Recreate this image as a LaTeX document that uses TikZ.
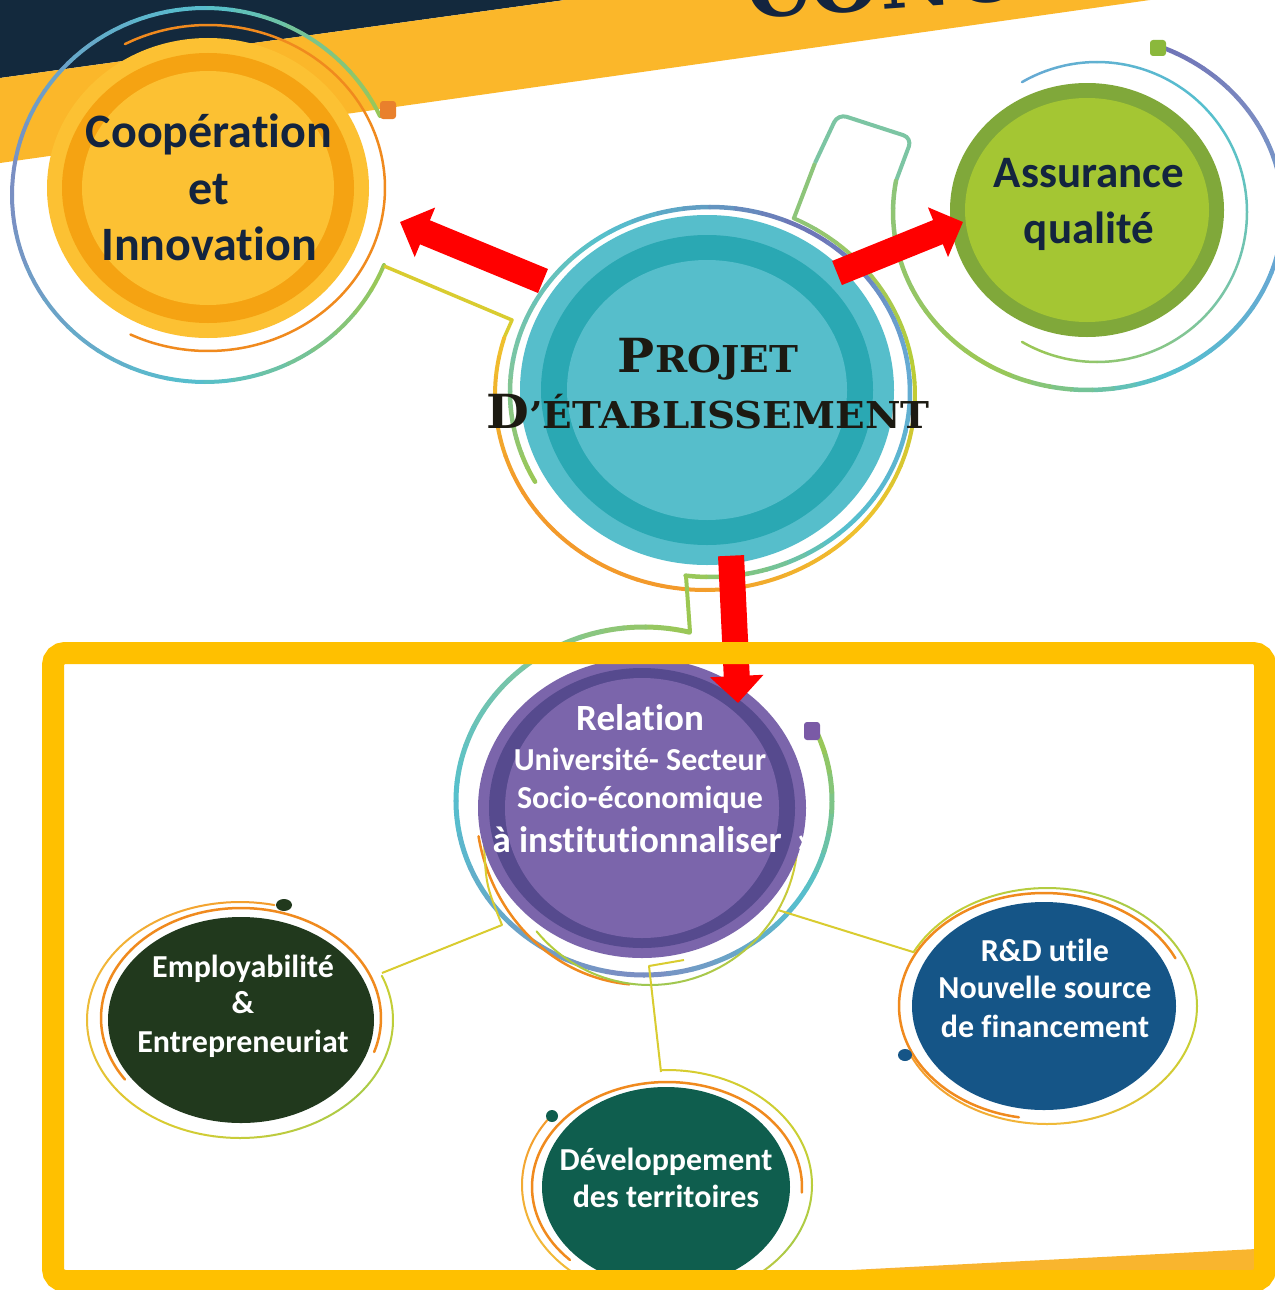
\documentclass[tikz,border=0pt]{standalone}
\usepackage{fontspec}
\setmainfont{Carlito}[Ligatures=NoCommon]
\newfontfamily\projfont{DejaVu Serif}[FakeStretch=1.05]
\newfontfamily\titlefont{DejaVu Serif}
\usetikzlibrary{arrows.meta,shapes.geometric}
\definecolor{navy}{HTML}{13293D}
\definecolor{bannery}{HTML}{FBB72A}
\definecolor{txtnavy}{HTML}{13243F}
\definecolor{coopA}{HTML}{FCC133}
\definecolor{coopB}{HTML}{F5A312}
\definecolor{assA}{HTML}{80A83A}
\definecolor{assB}{HTML}{A4C633}
\definecolor{projA}{HTML}{56BECB}
\definecolor{projB}{HTML}{2AA8B3}
\definecolor{purA}{HTML}{7B65AB}
\definecolor{purB}{HTML}{564A8E}
\definecolor{empc}{HTML}{21391D}
\definecolor{devc}{HTML}{0F5E4E}
\definecolor{rdc}{HTML}{155587}
\definecolor{framey}{HTML}{FFC000}
\definecolor{wedgec}{HTML}{F9B52E}
\definecolor{projtxt}{HTML}{1C1A12}
\definecolor{cgreen}{HTML}{9CC752}
\definecolor{cgreen2}{HTML}{8DC57A}
\definecolor{ccyan}{HTML}{55C0CE}
\definecolor{cbluep}{HTML}{7C8CC2}
\definecolor{cblue}{HTML}{66A8D3}
\definecolor{cpurp}{HTML}{6F72B6}
\definecolor{cteal}{HTML}{7CC5A3}
\definecolor{cyell}{HTML}{EFC22E}
\definecolor{corange}{HTML}{F39A2B}
\definecolor{cygreen}{HTML}{B8CD35}
\definecolor{lorange}{HTML}{F08A1E}
\definecolor{dotor}{HTML}{E9802C}
\definecolor{dotgr}{HTML}{8BB83C}
\definecolor{dotpu}{HTML}{7A5AA6}
\definecolor{lyell}{HTML}{D9CC30}
\definecolor{oy}{HTML}{F2B83A}
\definecolor{yg}{HTML}{A8CB48}
\definecolor{yg2}{HTML}{CBCF32}

% gradient arc: cx cy rx ry a b colA colB width  (pixel coords, y down)
\newcommand\garc[9]{%
  \foreach \gK in {0,...,7}{%
    \pgfmathsetmacro\gA{#5+(#6-#5)*\gK/8}%
    \pgfmathsetmacro\gB{#5+(#6-#5)*(\gK+1)/8}%
    \pgfmathtruncatemacro\gP{100-100*(\gK+0.5)/8}%
    \draw[color=#7!\gP!#8, line width=#9, line cap=round]
      plot[domain=\gA:\gB, samples=5] ({#1+#3*cos(\x)},{#2+#4*sin(\x)});
  }}
% solid arc
\newcommand\sarc[7]{%
  \draw[#7] plot[domain=#5:#6, samples=60, smooth] ({#1+#3*cos(\x)},{#2+#4*sin(\x)});}

\tikzset{
 tl/.style={anchor=base, inner sep=0pt},
 cooptxt/.style={tl, text=txtnavy, font=\bfseries\fontsize{48}{50}\selectfont},
 asstxt/.style={tl, text=txtnavy, font=\bfseries\fontsize{45}{48}\selectfont},
 projtx/.style={tl, text=projtxt, font=\projfont\bfseries},
 relbig/.style={tl, text=white, font=\bfseries\fontsize{37}{40}\selectfont},
 relsm/.style={tl, text=white, font=\bfseries\fontsize{32}{34}\selectfont},
 smtxt/.style={tl, text=white, font=\bfseries\fontsize{32}{34}\selectfont},
 disc/.style={ellipse, inner sep=0pt, draw=none},
 redarrow/.style={draw=red, line width=26pt, -{Triangle[width=52pt,length=27pt]}},
 thin/.style={line width=2.5pt, line cap=round},
}
\newcommand\bigc{\fontsize{47}{49}\selectfont}
\newcommand\smc{\fontsize{37}{40}\selectfont}

\begin{document}
\begin{tikzpicture}[x=1pt,y=-1pt]
\useasboundingbox (0,0) rectangle (1274,1290);
\fill[white] (0,0) rectangle (1274,1290);
% banner
\fill[navy] (0,0) -- (565,0) -- (0,78) -- cycle;
\fill[bannery] (565,0) -- (1150,0) -- (0,163) -- (0,78) -- cycle;
\node[font=\titlefont\bfseries\fontsize{80}{80}\selectfont, text=txtnavy, rotate=4, anchor=base west, inner sep=0pt] (title) at (748,19) {CONC};

% ---- arcs around Cooperation
\foreach \sa/\sb/\sc/\sd in {-25/-90/cgreen/ccyan, -90/-180/ccyan/cbluep, -180/-270/cbluep/ccyan, -270/-338/ccyan/cgreen}
  {\garc{205}{195}{193}{187}{\sa}{\sb}{\sc}{\sd}{4pt}}
\sarc{208}{188}{177}{163}{-118}{116}{lorange, thin}
\draw[color=lyell, line width=3.5pt, line join=round] (384,266) -- (512,320) -- (504,338);

% ---- rings around Projet
\foreach \sa/\sb/\sc/\sd in {197/150/cyell/corange, 150/95/corange/corange, 95/40/corange/cyell, 40/-10/cyell/cygreen, -10/-65/cygreen/cgreen2}
  {\garc{705}{395}{210}{195}{\sa}{\sb}{\sc}{\sd}{4pt}}
\foreach \sa/\sb/\sc/\sd in {151/190/cgreen/cteal, 190/240/cteal/ccyan, 240/300/ccyan/cpurp, 300/350/cpurp/cblue, 350/410/cblue/ccyan, 410/457/ccyan/cgreen}
  {\garc{710}{392}{200}{185}{\sa}{\sb}{\sc}{\sd}{4.5pt}}
\draw[color=cgreen2, line width=4pt] (794,218) -- (815,163);
\draw[color=cteal, line width=4pt, rounded corners=9pt, line join=round] (815,163) -- (838,114) -- (912,138) -- (896,181);
\draw[color=cgreen, line width=4pt] (686,576) -- (690,632);

% ---- arcs around Assurance
\foreach \sa/\sb/\sc/\sd in {-68/-30/cpurp/cbluep, -30/20/cbluep/cblue, 20/70/cblue/ccyan, 70/120/ccyan/cgreen, 120/190/cgreen/cgreen2}
  {\garc{1088}{212}{195}{178}{\sa}{\sb}{\sc}{\sd}{4.5pt}}
\foreach \sa/\sb/\sc/\sd in {-120/-40/cblue/ccyan, -40/40/ccyan/cteal, 40/120/cteal/cgreen}
  {\garc{1097}{212}{150}{150}{\sa}{\sb}{\sc}{\sd}{2.5pt}}

% ---- arcs around Relation
\foreach \sa/\sb/\sc/\sd in {-76/-130/cgreen/cteal, -130/-180/cteal/ccyan, -180/-270/ccyan/cbluep, -270/-330/cbluep/ccyan, -330/-383/ccyan/cgreen}
  {\garc{644}{801}{188}{174}{\sa}{\sb}{\sc}{\sd}{5pt}}
\sarc{644}{805}{168}{180}{170}{95}{lorange, thin}
\foreach \sa/\sb/\sc/\sd in {0/90/lyell/cgreen, 90/140/cgreen/cygreen}
  {\garc{650}{835}{148}{150}{\sa}{\sb}{\sc}{\sd}{2pt}}
\draw[color=lyell, line width=2pt, line join=round] (484,842) .. controls (486,885) .. (502,925) -- (382,973);
\draw[color=lyell, line width=2pt, line join=round] (778,910) -- (913,952);
\draw[color=lyell, line width=2pt, line join=round] (684,960) -- (649,966) -- (661,1072);

% ---- arcs around small circles
\foreach \sa/\sb/\sc/\sd in {283/200/corange/oy, 200/120/oy/lyell, 120/40/lyell/yg, 40/-22/yg/yg2}
  {\garc{240}{1020}{153}{118}{\sa}{\sb}{\sc}{\sd}{2pt}}
\sarc{241}{1018}{140}{110}{146}{378}{lorange, thin}
\foreach \sa/\sb/\sc/\sd in {217/150/corange/oy, 150/90/oy/cyell, 90/30/cyell/yg, 30/-30/yg/yg2, -30/-92/yg2/lyell}
  {\garc{667}{1185}{145}{115}{\sa}{\sb}{\sc}{\sd}{2pt}}
\sarc{667}{1187}{135}{105}{136}{363}{lorange, thin}
\foreach \sa/\sb/\sc/\sd in {156/90/corange/oy, 90/20/oy/yg2, 20/-60/yg2/yg, -60/-153/yg/yg2}
  {\garc{1047}{1006}{150}{118}{\sa}{\sb}{\sc}{\sd}{2pt}}
\sarc{1044}{1006}{145}{113}{-25}{-260}{lorange, thin}

% ---- discs
\node[disc, fill=coopA, minimum width=322pt, minimum height=300pt] (coop) at (208,188) {};
\fill[coopB] (coop.center) ellipse [x radius=146, y radius=135];
\fill[coopA] (coop.center) ellipse [x radius=126, y radius=117];
\node[disc, fill=projA, minimum width=374pt, minimum height=350pt] (proj) at (707,390) {};
\fill[projB] (proj.center) ellipse [x radius=166, y radius=155];
\fill[projA] (proj.center) ellipse [x radius=140, y radius=130];
\node[disc, fill=assA, minimum width=274pt, minimum height=254pt] (ass) at (1087,210) {};
\fill[assB] (ass.center) ellipse [x radius=122, y radius=112];
\node[disc, fill=purA, minimum width=328pt, minimum height=300pt] (rel) at (642,808) {};
\fill[purB] (rel.center) ellipse [x radius=153, y radius=140];
\fill[purA] (rel.center) ellipse [x radius=137, y radius=130];
\node[disc, fill=empc, minimum width=266pt, minimum height=206pt] (emp) at (241,1020) {};
\node[disc, fill=devc, minimum width=248pt, minimum height=200pt] (dev) at (666,1187) {};
\node[disc, fill=rdc, minimum width=264pt, minimum height=208pt] (rd) at (1044,1006) {};

% ---- dots
\fill[dotor, rounded corners=3pt] (380,101) rectangle (396,119);
\fill[dotgr, rounded corners=3pt] (1150,40) rectangle (1166,56);
\fill[dotpu, rounded corners=3pt] (804,722) rectangle (820,740);
\fill[empc] (284,905) ellipse [x radius=8, y radius=6];
\fill[devc] (552,1116) circle [radius=6];
\fill[rdc] (905,1055) ellipse [x radius=7, y radius=6];

% ---- texts
\node[cooptxt] (coop1) at (209,147) {Coopération};
\node[cooptxt] (coop2) at (209,204) {et};
\node[cooptxt] (coop3) at (209,260) {Innovation};
\node[asstxt] (ass1) at (1089,187) {Assurance};
\node[asstxt] (ass2) at (1089,243) {qualité};
\node[projtx] (proj1) at (708,372) {\bigc P\smc ROJET};
\node[projtx] (proj2) at (708,428) {\bigc D\smc ’ÉTABLISSEMENT};
\node[relbig] (rel1) at (640,730) {Relation};
\node[relsm] (rel2) at (640,770) {Université- Secteur};
\node[relsm] (rel3) at (640,808) {Socio-économique};
\node[relbig] (rel4) at (637,852) {à institutionnaliser};
\node[relbig, anchor=base west] (rel5) at (796,852) {»};
\node[smtxt] (emp1) at (243,977) {Employabilité};
\node[smtxt] (emp2) at (243,1013) {\&};
\node[smtxt] (emp3) at (243,1052) {Entrepreneuriat};
\node[smtxt] (dev1) at (666,1170) {Développement};
\node[smtxt] (dev2) at (666,1207) {des territoires};
\node[smtxt] (rd1) at (1045,961) {R\&D utile};
\node[smtxt] (rd2) at (1045,998) {Nouvelle source};
\node[smtxt] (rd3) at (1045,1037) {de financement};

% ---- red arrows
\coordinate (tailA) at (543,281);
\coordinate (tipA) at (400,222);
\coordinate (tailB) at (837,273);
\coordinate (tipB) at (963,222);
\coordinate (tipC) at (738,703);
\draw[redarrow] (tailA) -- (tipA);
\draw[redarrow] (tailB) -- (tipB);
\draw[redarrow, shorten <=-8pt] (proj.278) -- (tipC);

% ---- frame
\fill[wedgec] (813,1272) -- (1256,1249) -- (1256,1272) -- cycle;
\draw[framey, line width=22pt, rounded corners=12pt] (53,653) rectangle (1265,1281);
\end{tikzpicture}
\end{document}
